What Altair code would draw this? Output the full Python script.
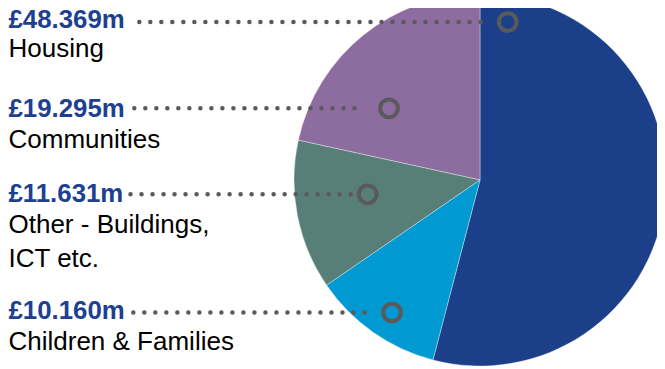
import altair as alt
import pandas as pd

# ---- data ----
categories = ["Housing", "Communities", "Other - Buildings, ICT etc.", "Children & Families"]
values = [48.369, 19.295, 11.631, 10.160]
value_labels = ["£48.369m", "£19.295m", "£11.631m", "£10.160m"]
label_lines = ["Housing", "Communities", "Other - Buildings,\nICT etc.", "Children & Families"]
pie_order = [0, 3, 2, 1]  # clockwise from 12 o'clock

# ---- styling / layout (page pixels) ----
colors = ["#1c3f8a", "#8d6c9f", "#577f78", "#0099d2"]
OFF = 8  # page margin
W, H = 649, 361
value_y = [27.8, 117, 202, 319]
label_y = [57, 148, 233, 350]
lead_y = [22, 108.3, 194.3, 312.5]
lead_x0 = [139.3, 134.3, 130.5, 133.3]
lead_x1 = [486, 363.5, 351, 366]
marker_x = [507.7, 389, 367.7, 392]
text_x = 8.5
pie_cx, pie_cy, pie_r = 480, 180, 186

df = pd.DataFrame({
    "category": categories,
    "value": values,
    "vlabel": value_labels,
    "label": label_lines,
    "order": pie_order,
    "vy": [v - OFF for v in value_y],
    "ly": [v - OFF for v in label_y],
    "py": [v - OFF for v in lead_y],
    "px0": [v - OFF for v in lead_x0],
    "px1": [v - OFF for v in lead_x1],
    "mx": [v - OFF for v in marker_x],
})
df["tx"] = text_x - OFF

base = alt.Chart(df)

pie = base.mark_arc(radius=pie_r, stroke="#ffffff", strokeWidth=0.5, strokeOpacity=0.7).encode(
    theta=alt.Theta("value:Q", stack=True),
    order=alt.Order("order:Q"),
    color=alt.Color("category:N", scale=alt.Scale(domain=categories, range=colors), legend=None),
    x=alt.value(pie_cx - OFF),
    y=alt.value(pie_cy - OFF),
)

leaders = base.mark_rule(strokeDash=[0.01, 11], strokeCap="round", strokeWidth=4.5, color="#5a5a5a").encode(
    x=alt.X("px0:Q", scale=None, axis=None),
    x2="px1:Q",
    y=alt.Y("py:Q", scale=None, axis=None),
)

markers = base.mark_point(shape="circle", size=314, strokeWidth=4, color="#5a5a5a", filled=False, opacity=1).encode(
    x=alt.X("mx:Q", scale=None, axis=None),
    y=alt.Y("py:Q", scale=None, axis=None),
)

vtext = base.mark_text(align="left", baseline="alphabetic", font="Liberation Sans", fontSize=25.8,
                       fontWeight="bold", color="#1d4190").encode(
    x=alt.X("tx:Q", scale=None, axis=None),
    y=alt.Y("vy:Q", scale=None, axis=None),
    text="vlabel:N",
)

ltext = base.mark_text(align="left", baseline="alphabetic", font="Liberation Sans", fontSize=26,
                       color="#000000", lineBreak="\n", lineHeight=33.5).encode(
    x=alt.X("tx:Q", scale=None, axis=None),
    y=alt.Y("ly:Q", scale=None, axis=None),
    text="label:N",
)

chart = alt.layer(pie, leaders, markers, vtext, ltext).properties(
    width=W, height=H, padding=0, autosize="none"
).configure_view(stroke=None)

chart.save("out.html", embed_options={"renderer": "svg", "actions": False})
